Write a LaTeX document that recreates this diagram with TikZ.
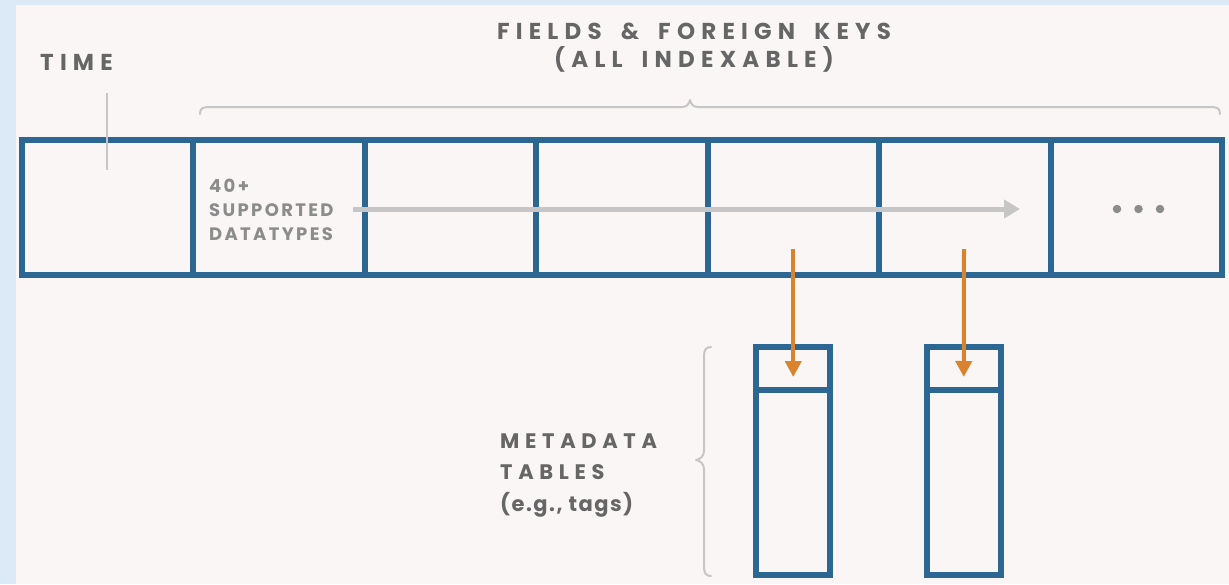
\documentclass[tikz,border=0pt]{standalone}
\usepackage{fontspec}
\setmainfont{Poppins}
\newfontfamily\wideFont[LetterSpace=27]{Poppins}
\newfontfamily\metaFont[LetterSpace=27]{Poppins}
\newfontfamily\midFont[LetterSpace=13]{Poppins}
\newfontfamily\tagFont[LetterSpace=7]{Poppins}
\usetikzlibrary{arrows.meta}
\definecolor{bgblue}{HTML}{DCE9F6}
\definecolor{panel}{HTML}{F9F6F5}
\definecolor{cellblue}{HTML}{2B6792}
\definecolor{lightgray}{HTML}{C6C6C6}
\definecolor{textdark}{HTML}{666666}
\definecolor{textmid}{HTML}{8C8C8C}
\definecolor{orangeA}{HTML}{D9832E}
\newcommand{\wgap}{\hspace{8pt} }
\tikzset{
  cellbox/.style={draw=cellblue, line width=6pt, minimum width=171.5pt, minimum height=135pt, inner sep=0pt},
  metahead/.style={draw=cellblue, line width=6pt, minimum width=74pt, minimum height=43.5pt, inner sep=0pt},
  metabody/.style={draw=cellblue, line width=6pt, minimum width=74pt, minimum height=185pt, inner sep=0pt},
  bracegray/.style={draw=lightgray, line width=2pt, line cap=round, line join=round},
  titletext/.style={text=textdark, font=\wideFont\bfseries\fontsize{23}{28}\selectfont, inner sep=0pt},
  bluelabel/.style={text=textdark, inner sep=0pt, align=left},
  grayarrow/.style={draw=lightgray, line width=5pt, -{Triangle[length=16pt, width=18pt]}},
  orangearrow/.style={draw=orangeA, line width=4pt, -{Triangle[length=16pt, width=16pt]}},
  dotmark/.style={circle, fill=textmid, minimum size=8.5pt, inner sep=0pt}
}
\begin{document}
\begin{tikzpicture}[x=1pt,y=-1pt]
\useasboundingbox (0,0) rectangle (1229,584);
\fill[bgblue] (0,0) rectangle (1229,584);
\fill[panel] (16,5) rectangle (1229,584);

% titles
\node[titletext, anchor=west] (time) at (40,62) {TIME};
\node[titletext, align=center] (fields) at (694,48) {FIELDS\wgap\&\wgap FOREIGN\wgap KEYS\\(ALL\wgap INDEXABLE)};

% top brace
\draw[bracegray] (200,114) .. controls (200,108) and (203,107) .. (210,107) -- (682,107)
  .. controls (687,107) and (689,104) .. (690,100) .. controls (691,104) and (693,107) .. (698,107)
  -- (1210,107) .. controls (1217,107) and (1220,108) .. (1220,114);

% row of cells
\foreach \i/\x in {1/107.25,2/278.75,3/450.25,4/621.75,5/793.25,6/964.75,7/1136.25}{
  \node[cellbox] (c\i) at (\x,207.5) {};
}

% time tick
\coordinate (timetop) at (107,93);
\coordinate (timebot) at (107,170);
\draw[lightgray, line width=2pt] (timetop) -- (timebot);

% datatypes label
\node[bluelabel, anchor=west, text=textmid, font=\midFont\bfseries\fontsize{18}{24}\selectfont] (dtypes) at (209,210) {40+\\SUPPORTED\\DATATYPES};

% gray arrow
\coordinate (gstart) at (353,209);
\coordinate (gend) at (1020,209);
\draw[grayarrow] (gstart) -- (gend);

% dots
\node[dotmark] (d1) at (1117,209) {};
\node[dotmark] (d2) at (1138.5,209) {};
\node[dotmark] (d3) at (1160,209) {};

% metadata tables
\node[metahead] (h1) at (793.25,368.25) {};
\node[metabody] (b1) at (793.25,482.5) {};
\node[metahead] (h2) at (963.75,368.25) {};
\node[metabody] (b2) at (963.75,482.5) {};

% orange arrows
\coordinate (o1) at (793.25,249);
\coordinate (o2) at (964,249);
\draw[orangearrow] (o1) -- (h1.center |- 0,377);
\draw[orangearrow] (o2) -- (h2.center |- 0,377);

% left brace
\draw[bracegray] (711,347) .. controls (706,347) and (704,350) .. (704,356) -- (704,450)
  .. controls (704,456) and (701,459) .. (696,460) .. controls (701,461) and (704,464) .. (704,470)
  -- (704,567) .. controls (704,573) and (706,576) .. (711,576);

% metadata label
\node[bluelabel, anchor=west, font=\metaFont\bfseries\fontsize{21}{31}\selectfont] (meta) at (500,457) {METADATA\\TABLES};
\node[bluelabel, anchor=west, font=\tagFont\bfseries\fontsize{21}{31}\selectfont] (tags) at (500,505) {(e.g., tags)};
\end{tikzpicture}
\end{document}
